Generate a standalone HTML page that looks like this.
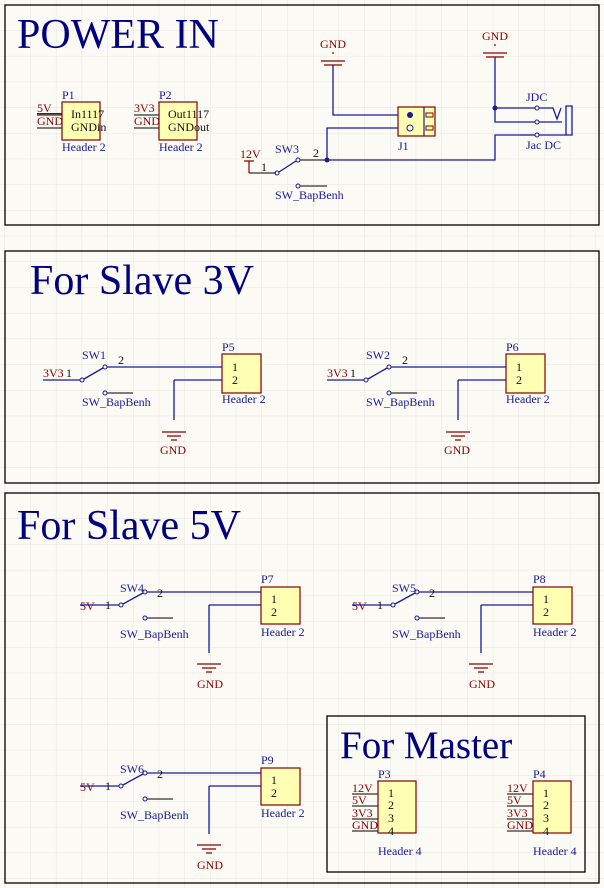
<!DOCTYPE html>
<html><head><meta charset="utf-8"><style>
html,body{margin:0;padding:0;background:#fbfaf5}
svg{display:block}
text{font-family:"Liberation Serif",serif}
.b{fill:#1a1a9a;font-size:12px}
.r{fill:#8b0000;font-size:12px}
.k{fill:#111;font-size:12px}
.t{fill:#000080}
.w{stroke:#1a1a9a;stroke-width:1.3;fill:none}
.p{stroke:#000;stroke-width:1;fill:none}
.g{stroke:#8b0000;stroke-width:1.2;fill:none}
.box{fill:#ffffb4;stroke:#800000;stroke-width:1.2}
.fr{fill:none;stroke:#000;stroke-width:1.3}
</style></head><body>
<svg width="604" height="888" viewBox="0 0 604 888" xmlns="http://www.w3.org/2000/svg">
<defs>
<pattern id="grid" width="25.7" height="25.7" patternUnits="userSpaceOnUse" x="5" y="5">
<path d="M25.7 0V25.7H0" fill="none" stroke="#e6e6e0" stroke-width="1"/>
</pattern>
<g id="gnd"><path class="g" d="M-12 0H12M-7 4H7M-3 8H3"/></g>
</defs>
<rect width="604" height="888" fill="url(#grid)"/>
<rect class="fr" x="5" y="5" width="594" height="220"/>
<rect class="fr" x="5" y="251" width="594" height="232"/>
<rect class="fr" x="5" y="493" width="594" height="390"/>
<rect class="fr" x="327" y="716" width="258" height="156"/>

<!-- POWER IN -->
<text class="t" x="17" y="48" font-size="42">POWER IN</text>
<path class="p" d="M37 115H62M37 128H62"/>
<text class="r" x="37" y="112">5V</text><text class="r" x="37" y="125" text-decoration="overline">GND</text>
<rect class="box" x="62" y="102" width="38" height="38"/>
<text class="b" x="62" y="99">P1</text>
<text class="k" x="71" y="118">In1117</text><text class="k" x="71" y="131">GNDin</text>
<text class="b" x="62" y="151">Header 2</text>
<path class="p" d="M134 115H159M134 128H159"/>
<text class="r" x="134" y="112">3V3</text><text class="r" x="134" y="125">GND</text>
<rect class="box" x="159" y="102" width="38" height="38"/>
<text class="b" x="159" y="99">P2</text>
<text class="k" x="168" y="118">Out1117</text><text class="k" x="168" y="131">GNDout</text>
<text class="b" x="159" y="151">Header 2</text>

<text class="r" x="240" y="158">12V</text>
<path class="g" d="M244 161H254M249 161V173"/>
<path class="p" d="M249 173H276M300 160H327M300 186H327"/>
<text class="k" x="261" y="171">1</text><text class="k" x="313" y="157">2</text>
<circle cx="277" cy="173" r="2" fill="none" stroke="#1a1a9a"/><circle cx="298" cy="160" r="2" fill="none" stroke="#1a1a9a"/><circle cx="298" cy="186" r="2" fill="none" stroke="#1a1a9a"/>
<path class="w" d="M279 172L296 161"/>
<text class="b" x="275" y="153">SW3</text><text class="b" x="275" y="199">SW_BapBenh</text>
<circle cx="327" cy="160" r="2.5" fill="#1a1a9a"/>
<text class="r" x="320" y="48">GND</text>
<path class="g" d="M332 53H334M321 61H345M324 65H342"/>
<path class="w" d="M333 65V115H398M327 160V128H398M327 160H495V135H520"/>
<rect class="box" x="398" y="107" width="37" height="29"/>
<path d="M424 107V136" stroke="#1a1a9a" stroke-width="1.2"/>
<rect x="426" y="113" width="7" height="4" fill="none" stroke="#800000"/><rect x="426" y="126" width="7" height="4" fill="none" stroke="#800000"/>
<circle cx="410" cy="115" r="3" fill="#1a1a9a"/><circle cx="410" cy="128" r="3" fill="none" stroke="#1a1a9a"/>
<text class="b" x="398" y="150">J1</text>
<text class="r" x="482" y="40">GND</text>
<path class="g" d="M494 45H496M483 53H507M486 57H504"/>
<path class="w" d="M495 57V108H535M495 108V122H535"/>
<circle cx="495" cy="108" r="2.5" fill="#1a1a9a"/>
<path class="w" d="M520 135H535"/>
<circle cx="537" cy="108" r="2" fill="none" stroke="#1a1a9a"/><circle cx="537" cy="122" r="2" fill="none" stroke="#1a1a9a"/><circle cx="537" cy="135" r="2" fill="none" stroke="#1a1a9a"/>
<path class="w" d="M539 108H553L557 119L561 108M539 122H562M539 135H572V106H566V135"/>
<text class="b" x="526" y="101">JDC</text><text class="b" x="526" y="149">Jac DC</text>

<!-- Slave 3V -->
<text class="t" x="30" y="294" font-size="42">For Slave 3V</text>
<g>
<text class="r" x="43" y="377">3V3</text><text class="k" x="66" y="377">1</text>
<path class="w" d="M43 380H80M84 379L103 368M107 367H222M174 380H222M174 380V420"/>
<path class="p" d="M107 393H133"/>
<circle cx="82" cy="380" r="2" fill="none" stroke="#1a1a9a"/><circle cx="105" cy="367" r="2" fill="none" stroke="#1a1a9a"/><circle cx="105" cy="393" r="2" fill="none" stroke="#1a1a9a"/>
<text class="b" x="82" y="359">SW1</text><text class="k" x="118" y="364">2</text><text class="b" x="82" y="406">SW_BapBenh</text>
<rect class="box" x="222" y="354" width="39" height="39"/>
<text class="b" x="222" y="351">P5</text><text class="k" x="232" y="371">1</text><text class="k" x="232" y="384">2</text>
<text class="b" x="222" y="403">Header 2</text>
<use href="#gnd" x="174" y="432"/><text class="r" x="160" y="454">GND</text>
</g>
<g transform="translate(284,0)">
<text class="r" x="43" y="377">3V3</text><text class="k" x="66" y="377">1</text>
<path class="w" d="M43 380H80M84 379L103 368M107 367H222M174 380H222M174 380V420"/>
<path class="p" d="M107 393H133"/>
<circle cx="82" cy="380" r="2" fill="none" stroke="#1a1a9a"/><circle cx="105" cy="367" r="2" fill="none" stroke="#1a1a9a"/><circle cx="105" cy="393" r="2" fill="none" stroke="#1a1a9a"/>
<text class="b" x="82" y="359">SW2</text><text class="k" x="118" y="364">2</text><text class="b" x="82" y="406">SW_BapBenh</text>
<rect class="box" x="222" y="354" width="39" height="39"/>
<text class="b" x="222" y="351">P6</text><text class="k" x="232" y="371">1</text><text class="k" x="232" y="384">2</text>
<text class="b" x="222" y="403">Header 2</text>
<use href="#gnd" x="174" y="432"/><text class="r" x="160" y="454">GND</text>
</g>

<!-- Slave 5V -->
<text class="t" x="17" y="539" font-size="42">For Slave 5V</text>
<g id="s5">
<text class="r" x="80" y="610">5V</text><text class="k" x="105" y="609">1</text>
<path class="w" d="M80 605H119M123 604L143 593M147 592H261M209 605H261M209 605V653"/>
<path class="p" d="M147 618H173"/>
<circle cx="121" cy="605" r="2" fill="none" stroke="#1a1a9a"/><circle cx="145" cy="592" r="2" fill="none" stroke="#1a1a9a"/><circle cx="145" cy="618" r="2" fill="none" stroke="#1a1a9a"/>
<text class="b" x="120" y="592">SW4</text><text class="k" x="157" y="597">2</text><text class="b" x="120" y="638">SW_BapBenh</text>
<rect class="box" x="261" y="587" width="39" height="37"/>
<text class="b" x="261" y="583">P7</text><text class="k" x="271" y="603">1</text><text class="k" x="271" y="616">2</text>
<text class="b" x="261" y="636">Header 2</text>
<use href="#gnd" x="209" y="664"/><text class="r" x="197" y="688">GND</text>
</g>
<g transform="translate(272,0)">
<text class="r" x="80" y="610">5V</text><text class="k" x="105" y="609">1</text>
<path class="w" d="M80 605H119M123 604L143 593M147 592H261M209 605H261M209 605V653"/>
<path class="p" d="M147 618H173"/>
<circle cx="121" cy="605" r="2" fill="none" stroke="#1a1a9a"/><circle cx="145" cy="592" r="2" fill="none" stroke="#1a1a9a"/><circle cx="145" cy="618" r="2" fill="none" stroke="#1a1a9a"/>
<text class="b" x="120" y="592">SW5</text><text class="k" x="157" y="597">2</text><text class="b" x="120" y="638">SW_BapBenh</text>
<rect class="box" x="261" y="587" width="39" height="37"/>
<text class="b" x="261" y="583">P8</text><text class="k" x="271" y="603">1</text><text class="k" x="271" y="616">2</text>
<text class="b" x="261" y="636">Header 2</text>
<use href="#gnd" x="209" y="664"/><text class="r" x="197" y="688">GND</text>
</g>
<g transform="translate(0,181)">
<text class="r" x="80" y="610">5V</text><text class="k" x="105" y="609">1</text>
<path class="w" d="M80 605H119M123 604L143 593M147 592H261M209 605H261M209 605V653"/>
<path class="p" d="M147 618H173"/>
<circle cx="121" cy="605" r="2" fill="none" stroke="#1a1a9a"/><circle cx="145" cy="592" r="2" fill="none" stroke="#1a1a9a"/><circle cx="145" cy="618" r="2" fill="none" stroke="#1a1a9a"/>
<text class="b" x="120" y="592">SW6</text><text class="k" x="157" y="597">2</text><text class="b" x="120" y="638">SW_BapBenh</text>
<rect class="box" x="261" y="587" width="39" height="37"/>
<text class="b" x="261" y="583">P9</text><text class="k" x="271" y="603">1</text><text class="k" x="271" y="616">2</text>
<text class="b" x="261" y="636">Header 2</text>
<use href="#gnd" x="209" y="664"/><text class="r" x="197" y="688">GND</text>
</g>

<!-- Master -->
<text class="t" x="340" y="758" font-size="39">For Master</text>
<g>
<path class="p" d="M352 794H378M352 806H378M352 819H378M352 831H378"/>
<text class="r" x="352" y="792">12V</text><text class="r" x="352" y="804">5V</text><text class="r" x="352" y="817">3V3</text><text class="r" x="352" y="829">GND</text>
<rect class="box" x="378" y="781" width="38" height="52"/>
<text class="b" x="378" y="778">P3</text>
<text class="k" x="388" y="797">1</text><text class="k" x="388" y="809">2</text><text class="k" x="388" y="822">3</text><text class="k" x="388" y="835">4</text>
<text class="b" x="378" y="855">Header 4</text>
</g>
<g transform="translate(155,0)">
<path class="p" d="M352 794H378M352 806H378M352 819H378M352 831H378"/>
<text class="r" x="352" y="792">12V</text><text class="r" x="352" y="804">5V</text><text class="r" x="352" y="817">3V3</text><text class="r" x="352" y="829">GND</text>
<rect class="box" x="378" y="781" width="38" height="52"/>
<text class="b" x="378" y="778">P4</text>
<text class="k" x="388" y="797">1</text><text class="k" x="388" y="809">2</text><text class="k" x="388" y="822">3</text><text class="k" x="388" y="835">4</text>
<text class="b" x="378" y="855">Header 4</text>
</g>
</svg>
</body></html>
